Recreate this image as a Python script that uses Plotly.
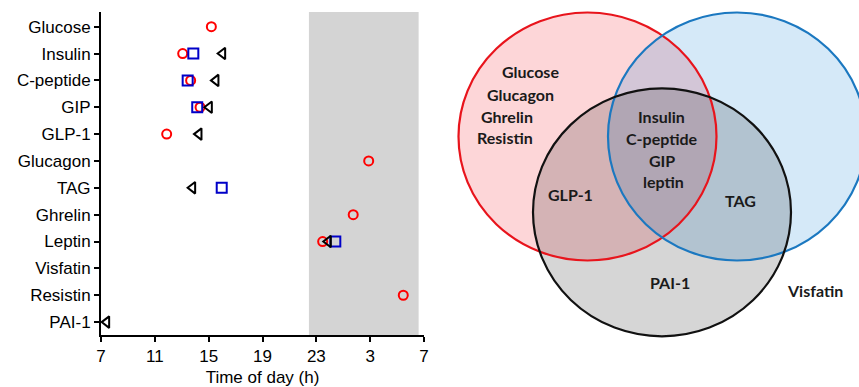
import plotly.graph_objects as go

# ---------------- data ----------------
categories = ["Glucose", "Insulin", "C-peptide", "GIP", "GLP-1", "Glucagon",
              "TAG", "Ghrelin", "Leptin", "Visfatin", "Resistin", "PAI-1"]
# peak time of day (h); values > 24 are the next morning
red_series = [15.2, 13.07, 13.66, 14.36, 11.88, 26.89, None, 25.74, 23.47, None, 29.46, None]
blue_series = [None, 13.86, 13.44, 14.15, None, None, 15.97, None, 24.41, None, None, None]
black_series = [None, 16.04, 15.54, 15.05, 14.28, None, 13.81, None, 23.89, None, None, 7.42]

tick_values = [7, 11, 15, 19, 23, 27, 31]
tick_labels = ["7", "11", "15", "19", "23", "3", "7"]
night_start, night_end = 22.45, 30.6

venn_red_only = ["Glucose", "Glucagon", "Ghrelin", "Resistin"]
venn_all_three = ["Insulin", "C-peptide", "GIP", "leptin"]
venn_red_black = ["GLP-1"]
venn_blue_black = ["TAG"]
venn_black_only = ["PAI-1"]
venn_none = ["Visfatin"]

# ---------------- layout constants ----------------
W, H = 859, 387
FONT = "Arial, Liberation Sans, sans-serif"
VFONT = "Lato, Open Sans, sans-serif"

ypos = list(range(len(categories)))

fig = go.Figure()

def add_series(vals, symbol, color, size):
    xs, ys = [], []
    for i, v in enumerate(vals):
        if v is not None:
            xs.append(v)
            ys.append(ypos[i])
    fig.add_trace(go.Scatter(
        x=xs, y=ys, mode="markers", xaxis="x", yaxis="y",
        marker=dict(symbol=symbol, size=size, color=color,
                    line=dict(width=2, color=color)),
        showlegend=False, hoverinfo="x+y"))

add_series(red_series, "circle-open", "#ff0000", 9)
add_series(blue_series, "square-open", "#0000c8", 10)
add_series(black_series, "triangle-left-open", "#000000", 10)

shapes = []
# night shading
shapes.append(dict(type="rect", xref="x", yref="y", x0=night_start, x1=night_end,
                   y0=11.48, y1=-0.547, fillcolor="#d4d4d4", line=dict(width=0),
                   layer="below"))

# Venn circles (in pixel-like coordinates of x2/y2)
rx, ry = 129, 124
circles = [
    dict(cx=587.5, cy=136.5, fill="rgba(240,0,10,0.16)", line="#e8141c"),
    dict(cx=737.0, cy=136.5, fill="rgba(0,122,213,0.165)", line="#1b78c0"),
    dict(cx=662.0, cy=212.3, fill="rgba(0,0,0,0.16)", line="#111111"),
]
for c in circles:
    shapes.append(dict(type="circle", xref="x2", yref="y2",
                       x0=c["cx"] - rx, x1=c["cx"] + rx,
                       y0=c["cy"] - ry, y1=c["cy"] + ry,
                       fillcolor=c["fill"], line=dict(width=0), layer="above"))
for c in circles:
    shapes.append(dict(type="circle", xref="x2", yref="y2",
                       x0=c["cx"] - rx, x1=c["cx"] + rx,
                       y0=c["cy"] - ry, y1=c["cy"] + ry,
                       fillcolor="rgba(0,0,0,0)", line=dict(width=2.2, color=c["line"]),
                       layer="above"))

annotations = []
def vlabel(text, x, y):
    annotations.append(dict(text=text, x=x, y=y, xref="x2", yref="y2",
                            showarrow=False, xanchor="center", yanchor="middle",
                            font=dict(family=VFONT, size=16, color="#1a1a1a",
                                      weight="bold")))

red_only_pos = [(530.9, 71.7), (520.8, 94.3), (506.5, 116.0), (504.5, 137.0)]
for t, (x, y) in zip(venn_red_only, red_only_pos):
    vlabel(t, x, y)
all_pos = [(661, 116.7), (662, 138.0), (662, 160.0), (663, 181.7)]
for t, (x, y) in zip(venn_all_three, all_pos):
    vlabel(t, x, y)
vlabel(venn_red_black[0], 570.7, 194)
vlabel(venn_blue_black[0], 740, 200)
vlabel(venn_black_only[0], 670, 282.7)
vlabel(venn_none[0], 815, 290)

fig.update_layout(
    width=W, height=H,
    margin=dict(l=0, r=0, t=0, b=0, autoexpand=False),
    paper_bgcolor="white", plot_bgcolor="rgba(0,0,0,0)",
    shapes=shapes, annotations=annotations,
    xaxis=dict(domain=[101 / W, 424 / W], range=[7, 31], anchor="y",
               automargin=False,
               tickmode="array", tickvals=tick_values, ticktext=tick_labels,
               ticks="outside", ticklen=5, tickwidth=1.5, tickcolor="black",
               showline=True, linecolor="black", linewidth=2,
               showgrid=False, zeroline=False,
               tickfont=dict(family=FONT, size=17, color="black"),
               title=dict(text="Time of day (h)", standoff=12,
                          font=dict(family=FONT, size=17, color="black"))),
    yaxis=dict(domain=[(H - 335) / H, (H - 12) / H], range=[11.48, -0.547],
               anchor="x", automargin=False,
               tickmode="array", tickvals=ypos, ticktext=categories,
               ticks="outside", ticklen=5, tickwidth=1.5, tickcolor="black",
               showline=True, linecolor="black", linewidth=2,
               showgrid=False, zeroline=False,
               tickfont=dict(family=FONT, size=17, color="black")),
    xaxis2=dict(domain=[440 / W, 1], range=[440, W], anchor="y2",
                visible=False, fixedrange=True),
    yaxis2=dict(domain=[0, 1], range=[H, 0], anchor="x2",
                visible=False, fixedrange=True),
)

fig.write_html("out.html", config={"displayModeBar": False},
               post_script="document.body.style.margin='0';document.body.style.overflow='hidden';")
